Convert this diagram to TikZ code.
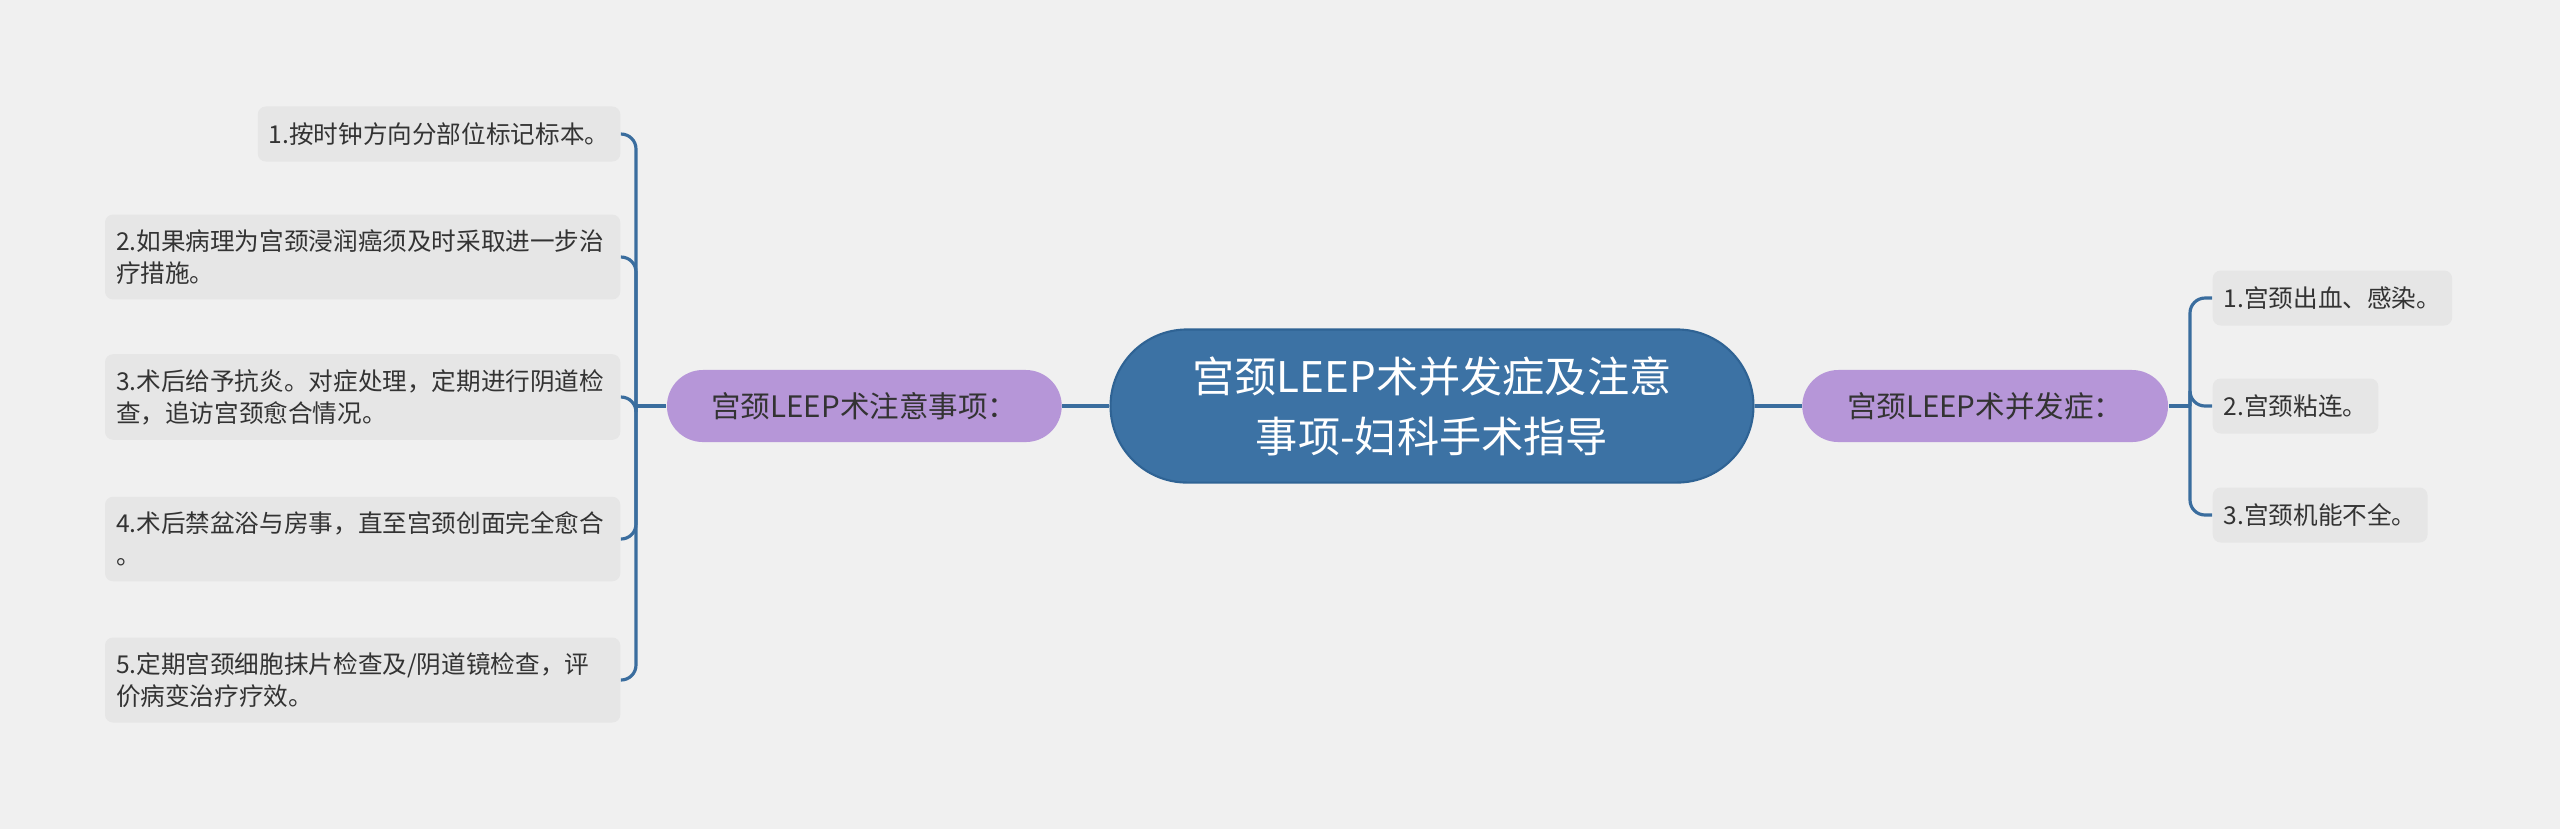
\documentclass[tikz,border=0pt]{standalone}
\usepackage{fontspec}
\setmainfont{Noto Sans CJK SC}
\usetikzlibrary{shapes.misc,positioning}
\definecolor{bgfill}{HTML}{F0F0F0}
\definecolor{topicfill}{HTML}{3C72A4}
\definecolor{topicline}{HTML}{2F6394}
\definecolor{branchfill}{HTML}{B696D8}
\definecolor{leaffill}{HTML}{E6E6E6}
\definecolor{linkcolor}{HTML}{3A6D9E}
\definecolor{textdark}{HTML}{333333}
\tikzstyle{topic} = [rounded rectangle, draw=topicline, line width=0.6pt, fill=topicfill,
    text=white, minimum width=6.66cm, minimum height=1.53cm, align=center,
    font=\fontsize{12}{17}\selectfont]
\tikzstyle{branch} = [rounded rectangle, fill=branchfill, text=textdark,
    minimum height=0.72cm, font=\fontsize{8.4}{10}\selectfont]
\tikzstyle{leaf} = [rectangle, rounded corners=0.08cm, fill=leaffill, text=textdark,
    align=left, inner xsep=0.11cm, inner ysep=0.15cm, minimum height=0.55cm,
    font=\fontsize{7}{9.1}\selectfont]
\tikzstyle{wideleaf} = [leaf, text width=4.93cm]
\tikzstyle{link} = [draw=linkcolor, line width=0.9pt]

\begin{document}
\begin{tikzpicture}[x=0.01cm, y=-0.01cm]
		\useasboundingbox[fill=bgfill] (0,0) rectangle (2560,829);
		% Draw nodes
		\node [topic] (center) at (1432,406) {宫颈LEEP术并发症及注意\\事项-妇科手术指导};
		\node [branch, minimum width=4.18cm, left=0.47cm of center] (care) {宫颈LEEP术注意事项：};
		\node [branch, minimum width=3.89cm, right=0.47cm of center] (risk) {宫颈LEEP术并发症：};
		\coordinate (carebus) at (636,406);
		\coordinate (riskbus) at (2190,406);
		% left leaves
		\node [leaf, anchor=east] (care1) at (621,134) {1.按时钟方向分部位标记标本。};
		\node [wideleaf, anchor=east] (care2) at (621,257) {2.如果病理为宫颈浸润癌须及时采取进一步治\\疗措施。};
		\node [wideleaf, anchor=east] (care3) at (621,397) {3.术后给予抗炎。对症处理，定期进行阴道检\\查，追访宫颈愈合情况。};
		\node [wideleaf, anchor=east] (care4) at (621,539) {4.术后禁盆浴与房事，直至宫颈创面完全愈合\\。};
		\node [wideleaf, anchor=east] (care5) at (621,680) {5.定期宫颈细胞抹片检查及/阴道镜检查，评\\价病变治疗疗效。};
		% right leaves
		\node [leaf, anchor=west] (risk1) at (2212,298) {1.宫颈出血、感染。};
		\node [leaf, anchor=west] (risk2) at (2212,406) {2.宫颈粘连。};
		\node [leaf, anchor=west] (risk3) at (2212,515) {3.宫颈机能不全。};
		% Draw lines connecting
		\path [link] (care.east) -- (center.west);
		\path [link] (center.east) -- (risk.west);
		\path [link] (care.west) -- (carebus);
		\path [link] (risk.east) -- (riskbus);
		\foreach \n in {1,...,5}
			\path [link, rounded corners=0.15cm] (carebus) |- (care\n.east);
		\foreach \n in {1,2,3}
			\path [link, rounded corners=0.15cm] (riskbus) |- (risk\n.west);
	\end{tikzpicture}
\end{document}
